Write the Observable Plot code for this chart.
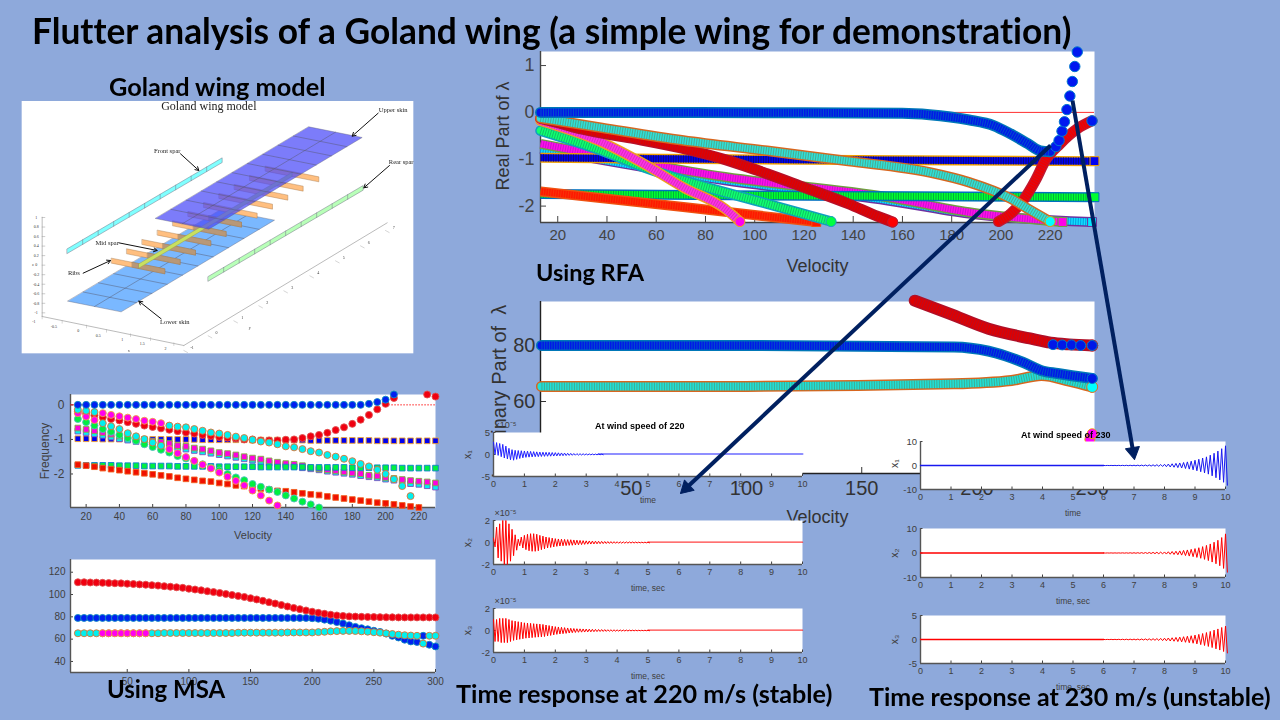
<!DOCTYPE html>
<html><head><meta charset="utf-8">
<script src="https://cdn.jsdelivr.net/npm/d3@7"></script>
<script src="https://cdn.jsdelivr.net/npm/@observablehq/plot@0.6"></script>
<style>
html,body{margin:0;padding:0;background:#8EA9DB;width:1280px;height:720px;overflow:hidden}
#root{position:relative;width:1280px;height:720px;overflow:hidden;background:#8EA9DB}
#root svg{position:absolute;overflow:visible;background:transparent;max-width:none}
.t{position:absolute;font-family:Lato,"Open Sans",sans-serif;font-weight:700;color:#000;white-space:nowrap;line-height:1;font-variant-ligatures:none}
</style></head><body><div id="root"></div>
<script>
// ---------- RFA, real part ----------
const rfaBlueV=[13,60,120,160,171,187,197,204,211,216,220];
const rfaBlueY=[0,0,-0.01,-0.02,-0.05,-0.16,-0.28,-0.46,-0.67,-0.82,-0.84];
const rfaBlueTailV=[222.3,223.6,224.8,225.8,226.8,228,229,230,231,237];
const rfaBlueTailY=[-0.73,-0.6,-0.4,-0.2,0.06,0.35,0.66,0.98,1.29,-0.18];
const rfaRedV=[13,20,30,50,70,90,105,120,138,150,156];
const rfaRedY=[-0.13,-0.22,-0.36,-0.55,-0.76,-1.04,-1.31,-1.6,-1.95,-2.22,-2.34];
const rfaRed2V=[199,204,209,214,218,224,231,237];
const rfaRed2Y=[-2.33,-2.16,-1.88,-1.45,-1.03,-0.67,-0.35,-0.18];
const rfaCyanV=[13,38,71,105,138,171,187,204,212,220];
const rfaCyanY=[-0.12,-0.33,-0.6,-0.82,-1.04,-1.28,-1.49,-1.84,-2.09,-2.33];
const rfaMagV=[13,38,55,71,88,94];
const rfaMagY=[-0.18,-0.64,-1.1,-1.6,-2.06,-2.33];
const rfaGreenV=[13,38,55,71,105,131];
const rfaGreenY=[-0.39,-0.82,-1.17,-1.45,-1.95,-2.33];
const rfaSqBlueV=[13,120,238];   const rfaSqBlueY=[-0.97,-1.01,-1.04];
const rfaSqGreenV=[13,120,238];  const rfaSqGreenY=[-1.74,-1.78,-1.81];
const rfaSqRedV=[13,71,125];     const rfaSqRedY=[-1.69,-2.02,-2.34];
const rfaSqMagV=[13,88,154,187,225];  const rfaSqMagY=[-0.67,-1.38,-1.81,-2.13,-2.34];
const rfaSqCyanV=[13,88,154,187,237]; const rfaSqCyanY=[-0.78,-1.45,-1.88,-2.16,-2.34];
// ---------- RFA, imaginary part ----------
const imBlueV=[11,100,190,205,220,228,235,250];  const imBlueY=[80,80,79.5,78,74,71,70,68.2];
const imCyanV=[11,100,190,215,228,240,250];      const imCyanY=[65.4,65.4,66.3,67.5,69.3,67.3,65.2];
const imRedV=[173,188,205,223,232,240,250];      const imRedY=[96,91.4,86,82.5,81,80.4,80];
const imBlueTailV=[233,237,241,245,250];         const imBlueTailY=[80.3,80.2,80.2,80,80];
const imMagV=[249,250]; const imMagY=[46.5,48.5];
// ---------- MSA, damping ----------
const fVel=[15,20,25,30,35,40,45,50,55,60,65,70,75,80,85,90,95,100,105,110,115,120,125,130,135,140,145,150,155,160,165,170,175,180,185,190,195,200,205,210,215,220,225,230];
const fBlue=[0,0,0,0,0,0,0,0,0,0,0,0,0,0,0,0,0,0,0,0,0,0,0,0,0,0,0,0,0,0,0,0,0,0,0,0.03,0.08,0.15,0.3];
const fRed=[-.2,-.25,-.3,-.36,-.41,-.45,-.5,-.55,-.6,-.64,-.68,-.72,-.76,-.8,-.83,-.87,-.9,-.93,-.95,-.97,-1,-1,-1.03,-1.03,-1.03,-1.01,-1,-.96,-.91,-.87,-.81,-.73,-.65,-.55,-.43,-.29,-.13,.03,.2,null,null,null,.3,.24];
const fCyan=[-.14,-.17,-.21,-.53,-.62,-.7,-.82,-.91,-.99,-1.09,-1.18,-.6,-.63,-.65,-.7,-.75,-.8,-.83,-.87,-.92,-.96,-1.01,-1.06,-1.09,-1.14,-1.2,-1.23,-1.28,-1.34,-1.38,-1.45,-1.5,-1.56,-1.63,-1.71,-1.78,-1.88,-2,-2.15,-2.35,-2.64];
const fMag=[-.24,-.34,-.44,-.24,-.29,-.33,-.37,-.41,-.46,-.49,-.53,-1.28,-1.4,-1.51,-1.62,-1.73,-1.84,-1.96,-2.08,-2.2,-2.33,-2.48,-2.62,-2.77,-2.91];
const fGreen=[-.41,-.5,-.6,-.7,-.78,-.87,-.96,-1.04,-1.14,-1.22,-1.3,-1.38,-1.48,-1.55,-1.63,-1.72,-1.82,-1.9,-2,-2.1,-2.18,-2.29,-2.37,-2.45,-2.52,-2.62,-2.71,-2.8,-2.88,-2.97];
const fSqBlue=[-.98,-.98,-.98,-.99,-.99,-.99,-.99,-1,-1,-1,-1,-1,-1,-1,-1,-1.01,-1.01,-1.01,-1.01,-1.01,-1.01,-1.02,-1.02,-1.02,-1.02,-1.02,-1.02,-1.02,-1.03,-1.03,-1.03,-1.03,-1.03,-1.03,-1.03,-1.03,-1.04,-1.04,-1.04,-1.04,-1.04,-1.04,-1.04,-1.04];
const fSqGreen=[-1.75,-1.75,-1.75,-1.75,-1.75,-1.76,-1.76,-1.76,-1.77,-1.77,-1.77,-1.77,-1.78,-1.78,-1.78,-1.78,-1.78,-1.79,-1.79,-1.79,-1.79,-1.79,-1.8,-1.8,-1.8,-1.8,-1.8,-1.8,-1.81,-1.81,-1.81,-1.81,-1.81,-1.82,-1.82,-1.82,-1.82,-1.82,-1.82,-1.83,-1.83,-1.83,-1.83,-1.83];
const fSqRed=[-1.73,-1.76,-1.79,-1.83,-1.86,-1.89,-1.92,-1.95,-1.98,-2.01,-2.04,-2.07,-2.11,-2.14,-2.17,-2.2,-2.22,-2.26,-2.29,-2.33,-2.35,-2.38,-2.42,-2.45,-2.49,-2.5,-2.53,-2.56,-2.59,-2.61,-2.65,-2.68,-2.71,-2.74,-2.77,-2.8,-2.83,-2.85,-2.88,-2.91,-2.94,-2.97];
const fSqMag=[-.67,-.71,-.75,-.8,-.85,-.9,-.95,-1,-1.03,-1.05,-1.08,-1.12,-1.18,-1.2,-1.25,-1.28,-1.33,-1.38,-1.41,-1.45,-1.5,-1.54,-1.57,-1.62,-1.66,-1.7,-1.72,-1.76,-1.82,-1.85,-1.88,-1.9,-1.94,-1.97,-1.99,-2.04,-2.06,-2.1,-2.13,-2.16,-2.19,-2.21,-2.23,-2.26];
const fSqCyan=[-.76,-.8,-.84,-.88,-.93,-.98,-1.02,-1.06,-1.1,-1.13,-1.17,-1.2,-1.24,-1.28,-1.32,-1.36,-1.4,-1.44,-1.48,-1.52,-1.56,-1.6,-1.64,-1.68,-1.72,-1.75,-1.78,-1.82,-1.85,-1.88,-1.92,-1.95,-1.98,-2.01,-2.05,-2.08,-2.11,-2.15,-2.18,-2.21,-2.28,-2.3,-2.34,-2.38];
// ---------- MSA, frequency ----------
const gVel=[10,15,20,25,30,35,40,45,50,55,60,65,70,75,80,85,90,95,100,105,110,115,120,125,130,135,140,145,150,155,160,165,170,175,180,185,190,195,200,205,210,215,220,225,230,235,240,245,250,255,260,265,270,275,280,285,290,295,300];
const gRed=[111,111,110.8,110.7,110.5,110.3,110.1,110,109.7,109.4,109.1,108.8,108.4,108,107.5,107,106.5,106,105.2,104.5,103.8,103,102.2,101.4,100.5,99.6,98.7,97.8,96.7,95.6,94.4,93.1,91.9,90.6,89.3,88,86.9,85.7,84.6,83.6,82.7,81.9,81.2,80.8,80.4,80.2,80,79.9,79.8,79.7,79.6,79.6,79.5,79.5,79.5,79.5,79.5,79.5,79.5];
const gBlue=[79,79,79,79,79,79,79,79,79,79,79,79,79,79,79,79,79,79,79,79,79,79,79,79,79,79,79,79,79,79,79,79,79,79,79,79,79,79,78.8,78.3,77.5,76.5,75.3,74,72.5,71,69.8,68.8,67.5,66.5,65,63,61.5,59.5,58,57.5,63,55,53.5];
const gCyan=[65.3,65.3,65.3,65.3,65.3,65.3,65.3,65.3,65.3,65.3,65.3,65.3,65.3,65.3,65.5,65.5,65.5,65.5,65.5,65.5,65.5,65.5,65.5,65.5,65.5,65.5,65.8,65.8,65.8,65.8,65.8,65.8,65.8,65.8,66,66,66,66,66,66.3,66.6,67,67.2,67.4,67.4,67.3,67,66.7,66.2,65.8,65.2,64.6,64,63.5,63.2,63,56,63,63];
const gMagV=[30,35,40,45,50,55,60,65];
const gMagY=[65.3,65.3,65.3,65.3,65.3,65.3,65.3,65.3];
// ---------- time responses (envelope read every 0.1 s / 0.125 s) ----------
const t220a=[2.8,2.7,2.5,2.3,1.9,1.4,1.1,.95,.9,.85,.8,.75,.7,.65,.6,.55,.52,.5,.48,.45,.42,.38,.35,.32,.28,.25,.22,.2,.18,.16,.14,.13,.12,.1,.09,.08];
const t220aLo=[0,-.2,-.5,-.8,-1,-1.2,-1.3,-1.1,-.9,-.75,-.65,-.6,-.55,-.5,-.48,-.45,-.42,-.4,-.38,-.35,-.32,-.3,-.27,-.24,-.2,-.18,-.16,-.14,-.12,-.1,-.09,-.08,-.08,-.07,-.06,-.05];
const t220b=[.4,1.4,1.7,2,2,1.7,1.2,.7,.3,.5,.65,.75,.8,.8,.75,.65,.58,.5,.45,.4,.35,.32,.3,.28,.26,.25,.23,.21,.19,.17,.15,.14,.13,.12,.11,.1,.09,.085,.08,.075,.07,.065,.06,.055,.05,.045,.04,.035,.03,.03,.03];
const t220c=[1,1,1.1,1.1,1.1,1,.9,.85,.8,.75,.7,.68,.65,.62,.6,.58,.55,.5,.45,.4,.35,.32,.29,.26,.23,.2,.18,.16,.15,.14,.13,.12,.11,.1,.09,.085,.08,.07,.065,.06,.055,.05,.045,.04,.035,.03,.03,.025,.02,.02,.02];
const t230a=[.03,.03,.04,.05,.06,.07,.09,.1,.12,.14,.16,.2,.24,.28,.34,.4,.5,.6,.72,.88,1.05,1.25,1.5,1.8,2.2,2.6,3.1,3.6,4.3,5.1,6,7,8.2];
const t230b=[.03,.03,.04,.04,.05,.06,.07,.09,.1,.12,.15,.18,.22,.26,.3,.36,.43,.5,.6,.72,.86,1.05,1.25,1.5,1.8,2.15,2.6,3.1,3.7,4.4,5.2,6.3,7.8];
const t230c=[.02,.02,.03,.03,.04,.05,.06,.07,.08,.09,.1,.12,.14,.16,.19,.23,.27,.31,.36,.43,.5,.58,.68,.78,.92,1.07,1.25,1.45,1.68,1.95,2.2,2.5,2.8];
const timeTicks=[0,1,2,3,4,5,6,7,8,9,10];
// ---------- wing sketch geometry, in picture units ----------
const ribStarts=[[288,503],[334,475],[380,447],[426,419],[472,391],[518,363],[565,336],[611,309],[657,282],[703,255],[750,227]];
const wingLabels=[["Upper skin",1133,57],["Front spar",455,180],["Rear spar",1157,214],["Mid spar",275,456],["Ribs",175,548],["Lower skin",478,693]];
const wingArrows=[[1088,68,1010,137],[495,190,550,240],[1122,225,1045,292],[310,457,425,480],[203,548,285,510],[437,685,370,632]];
const wingZ=[1,0.8,0.6,0.4,0.2,0,-0.2,-0.4,-0.6,-0.8,-1];
const wingXT=[["-1",55,695],["-0.5",115,708],["0",188,722],["0.5",248,735],["1",320,748],["1.5",380,760],["2",450,775],["x",340,782],["y",703,712],["z",52,524]];
const wingYT=[["-1",530,772],["0",603,728],["1",680,683],["2",755,638],["3",830,593],["4",908,548],["5",985,503],["6",1060,458],["7",1135,412]];
// ---------- annotation arrows on the slide, page pixels ----------
const slideArrows=[{x1:1050,y1:145,x2:680,y2:493},{x1:1072,y1:100,x2:1134,y2:459}];
const AX="#404040", BF='"Liberation Sans",Arial,sans-serif';
const root=document.getElementById("root");
const rows=(vs,ys)=>ys.map((y,i)=>({x:vs[i],y})).filter(d=>d.y!=null);

function panel(px,py,pw,ph,xDom,yDom,marks,m={}){
  const l=m.l??60,r=m.r??40,t=m.t??30,b=m.b??60;
  const svg=Plot.plot({width:l+pw+r,height:t+ph+b,marginLeft:l,marginRight:r,marginTop:t,marginBottom:b,
    x:{domain:xDom,axis:null},y:{domain:yDom,axis:null},
    style:{background:"transparent",overflow:"visible",fontFamily:BF,color:AX},marks});
  svg.style.left=(px-l)+"px";svg.style.top=(py-t)+"px";
  root.appendChild(svg);return svg;
}
function axes(xt,yt,xDom,yDom,o){
  const tx=o.tick??4,fx=o.fx??9,fy=o.fy??fx,c=o.color??AX;
  return [
    Plot.axisX(xt,{anchor:"bottom",tickSize:-tx,tickPadding:tx+(o.padX??4),fontSize:fx,stroke:c,color:c,fill:c,label:null,tickFormat:d=>String(d)}),
    Plot.axisY(yt,{anchor:"left",tickSize:-tx,tickPadding:tx+(o.padY??4),fontSize:fy,stroke:c,color:c,fill:c,label:null,tickFormat:d=>String(d)}),
    Plot.ruleY([yDom[0]],{stroke:o.line??"#555",strokeWidth:o.lw??1.4}),
    Plot.ruleX([xDom[0]],{stroke:o.line??"#555",strokeWidth:o.lw??1.4})
  ];
}
const bl=(s,dy,fs,c=AX)=>Plot.text([s],{text:d=>d,frameAnchor:"bottom",lineAnchor:"middle",dy,fontSize:fs,fill:c});
const yl=(s,dx,dy,fs,c=AX)=>Plot.text([s],{text:d=>d,frameAnchor:"left",lineAnchor:"middle",textAnchor:"middle",rotate:-90,dx,dy,fontSize:fs,fill:c});

// dense marker band: many overlapping edged markers, seen as a thick striped line
function band(vs,ys,fill,edge,opt={}){
  const d=rows(vs,ys),w=opt.w??10.5,cap=opt.cap??"round",curve="monotone-x";
  return [
    Plot.line(d,{x:"x",y:"y",curve,stroke:edge,strokeWidth:w,strokeLinecap:cap}),
    Plot.line(d,{x:"x",y:"y",curve,stroke:fill,strokeWidth:w-3,strokeLinecap:cap}),
    Plot.line(d,{x:"x",y:"y",curve,stroke:opt.stripe??edge,strokeWidth:w-2.5,strokeLinecap:"butt",strokeDasharray:opt.dash??"1 1.5",strokeOpacity:opt.so??0.75})
  ];
}
const endDot=(v,y,fill,stroke,sym="circle",r=5)=>Plot.dot([{x:v,y}],{x:"x",y:"y",fill,stroke,strokeWidth:1,r,symbol:sym});
const dots=(vs,ys,fill,stroke,sym="circle",r=3.5,sw=0.9)=>Plot.dot(rows(vs,ys),{x:"x",y:"y",fill,stroke,strokeWidth:sw,r,symbol:sym});

// ---------- imaginary part (underneath the time panels) ----------
{
  const xd=[10.6,251],yd=[34.3,95.7];
  panel(540,301,554,172,xd,yd,[
    Plot.frame({fill:"white"}),
    ...axes([50,100,150,200,250],[60,80],xd,yd,{tick:6,fx:20,fy:20,padX:7,padY:5,line:"#222",lw:1.4,color:"#333"}),
    bl("Velocity",44,18,"#333"),
    yl("Imaginary Part of  λ",-41,4,20,"#333"),
    ...band(imRedV,imRedY,"#e00000","#b01028",{w:12}),
    ...band(imCyanV,imCyanY,"#20e0d8","#d8661e",{w:11,stripe:"#4a9a7a"}),
    ...band(imBlueV,imBlueY,"#0018e8","#0078b8",{w:11,so:0.6}),
    dots(imMagV,imMagY,"#ff00ff","#f0a000","circle",5),
    endDot(250,80,"#ff0000","#c0242a","circle",5.5),
    dots(imBlueTailV,imBlueTailY,"#0018e8","#0078c8","circle",5,1),
    endDot(250,65.2,"#00ffff","#e07020","circle",5.5),
    endDot(250,68.2,"#0018e8","#0078c8","circle",5)
  ],{l:60,t:30,r:40,b:60});
}
// ---------- real part ----------
{
  const xd=[13,238],yd=[-2.35,1.3];
  panel(540,51,554,171,xd,yd,[
    Plot.frame({fill:"white"}),
    ...axes([20,40,60,80,100,120,140,160,180,200,220],[-2,-1,0,1],xd,yd,{tick:6,fx:15,fy:18,padX:7,padY:6,line:"#444",lw:1.4,color:"#444"}),
    bl("Velocity",44,18,"#333"),
    yl("Real Part of λ",-37,-1,18,"#333"),
    Plot.ruleY([0],{stroke:"#ff3030",strokeWidth:1}),
    ...band(rfaSqCyanV,rfaSqCyanY,"#10e0ff","#7030a0",{w:10,cap:"butt",stripe:"#0060c0",so:0.55}),
    ...band(rfaSqMagV,rfaSqMagY,"#ff10e8","#70a040",{w:10,cap:"butt",stripe:"#a010c0",so:0.55}),
    ...band(rfaSqGreenV,rfaSqGreenY,"#00ff30","#0070c0",{w:10,cap:"butt",stripe:"#009040",so:0.7}),
    ...band(rfaSqRedV,rfaSqRedY,"#ff1800","#f05010",{w:10,cap:"butt",so:0.5}),
    ...band(rfaSqBlueV,rfaSqBlueY,"#0000f0","#f0a000",{w:10,cap:"butt",stripe:"#101060",so:0.8}),
    endDot(225,-2.34,"#ff00e8","#70a040","square",5),
    endDot(237,-2.34,"#00e8ff","#7030a0","square",5),
    endDot(238,-1.04,"#0000f0","#f0a000","square",5),
    endDot(238,-1.81,"#00ff30","#0070c0","square",5),
    endDot(125,-2.34,"#ff1800","#f05010","square",5),
    ...band(rfaGreenV,rfaGreenY,"#10ff70","#10a0c0",{stripe:"#10a060",so:0.65}),
    endDot(131,-2.33,"#00ff40","#20a0c0"),
    ...band(rfaMagV,rfaMagY,"#ff30e8","#f0a020",{stripe:"#c030a0",so:0.6}),
    endDot(94,-2.33,"#ff00f0","#f0a020"),
    ...band(rfaRedV,rfaRedY,"#e00000","#b81028",{so:0.6,w:11}),
    ...band(rfaRed2V,rfaRed2Y,"#f00000","#c01830",{so:0.6,w:11}),
    endDot(156,-2.34,"#ff0000","#c01830"),
    ...band(rfaCyanV,rfaCyanY,"#30e0d8","#d8661e",{stripe:"#509a7a"}),
    endDot(220,-2.33,"#00ffff","#d8a020"),
    ...band(rfaBlueV,rfaBlueY,"#0018e8","#0078b8",{w:11,so:0.6}),
    dots(rfaBlueTailV,rfaBlueTailY,"#0018f0","#0078d0","circle",5.2,1)
  ],{l:60,t:30,r:40,b:60});
}
// ---------- MSA real part ----------
{
  const xd=[10.6,230],yd=[-2.97,0.3];
  panel(70,394,365,113,xd,yd,[
    Plot.frame({fill:"white"}),
    ...axes([20,40,60,80,100,120,140,160,180,200,220],[-2,-1,0],xd,yd,{tick:3,fx:10,fy:12,padX:5,padY:6,line:"#555"}),
    bl("Velocity",28,11),
    yl("Frequency",-25,0,12),
    Plot.line([{x:10.6,y:0},{x:20,y:0}],{x:"x",y:"y",stroke:"#e02020",strokeWidth:1}),
    Plot.line([{x:200,y:0},{x:230,y:0}],{x:"x",y:"y",stroke:"#ff4040",strokeWidth:1,strokeDasharray:"1 2"}),
    dots(fVel,fSqBlue,"#0000f0","#f0a030","square",3.2),
    dots(fVel,fSqCyan,"#00f0f0","#8050c0","square",3.2),
    dots(fVel,fSqMag,"#ff00e0","#80b040","square",3.2),
    dots(fVel,fSqGreen,"#00f040","#1080d0","square",3.2),
    dots(fVel,fSqRed,"#f01000","#f06020","square",3.2),
    dots(fVel,fGreen,"#00f040","#50c0c0"),
    dots(fVel,fRed,"#f00010","#e05050"),
    dots(fVel,fMag,"#ff00f0","#f0a040"),
    dots(fVel,fCyan,"#00f0f0","#e07030"),
    dots(fVel,fBlue,"#0020f0","#1090c0")
  ],{l:60,t:20,r:30,b:50});
}
// ---------- MSA frequency ----------
{
  const xd=[4,300],yd=[30.1,131.4];
  panel(70,559,365,113,xd,yd,[
    Plot.frame({fill:"white"}),
    ...axes([50,100,150,200,250,300],[40,60,80,100,120],xd,yd,{tick:3,fx:10,fy:10,padX:5,padY:5,line:"#555"}),
    dots(gVel,gBlue,"#0020f0","#1090c0"),
    dots(gVel,gRed,"#f00010","#e05050"),
    dots(gVel,gCyan,"#00f0f0","#e07030"),
    dots(gMagV,gMagY,"#ff00f0","#f0a040")
  ],{l:60,t:20,r:30,b:50});
}
// ---------- time responses ----------
function zig(hi,lo,t0,dt,c){
  const d=[];
  hi.forEach((h,i)=>{d.push({x:t0+i*dt,y:h});d.push({x:t0+i*dt+dt/2,y:lo?lo[i]:-h});});
  return Plot.line(d,{x:"x",y:"y",stroke:c,strokeWidth:1});
}
function timePanel(x,y,w,h,yd,yt,o){
  const marks=[
    Plot.frame({fill:"white"}),
    ...axes(timeTicks,yt,[0,10],yd,{tick:2.5,fx:9,fy:9.5,padX:4,padY:3.5,line:"#555"}),
    bl(o.xlabel,o.xdy??24,8.5),
    yl(o.yname,-26,o.ydy??0,10.5),
    Plot.line([{x:o.a,y:o.off??0},{x:o.b,y:o.off??0}],{x:"x",y:"y",stroke:o.color,strokeWidth:o.tw??1.4,strokeOpacity:o.to??1}),
    zig(o.hi,o.lo,o.t0,o.dt,o.color)
  ];
  if(o.exp)marks.push(Plot.text(["×10⁻⁵"],{text:d=>d,frameAnchor:"top-left",dx:1,dy:-7,lineAnchor:"middle",fontSize:9,fill:AX}));
  panel(x,y,w,h,[0,10],yd,marks,{l:40,r:15,t:20,b:40});
}
const tl=492.7,tw=309, rl=920,rw=305;
timePanel(tl,432,tw,44,[-5,5],[-5,0,5],{xlabel:"time",yname:"x₁",exp:true,hi:t220a,lo:t220aLo,t0:0,dt:0.1,color:"#2020ff",a:3.4,b:10,off:0.1,tw:2,to:0.5});
timePanel(tl,520,tw,44,[-2,2],[-2,0,2],{xlabel:"time, sec",yname:"x₂",exp:true,hi:t220b,t0:0,dt:0.1,color:"#ff0000",a:5,b:10,off:0.03,tw:1.4,to:0.75});
timePanel(tl,608,tw,44,[-2,2],[-2,0,2],{xlabel:"time, sec",yname:"x₃",exp:true,hi:t220c,t0:0,dt:0.1,color:"#ff0000",a:5,b:10,off:0.03,tw:1.4,to:0.75});
timePanel(rl,441,rw,48,[-10,10],[-10,0,10],{xlabel:"time",yname:"x₁",hi:t230a,t0:6,dt:0.125,color:"#1818f0",a:0,b:6,tw:1.4,ydy:-2});
timePanel(rl,528,rw,49,[-10,10],[-10,0,10],{xlabel:"time, sec",yname:"x₂",hi:t230b,t0:6,dt:0.125,color:"#ff0000",a:0,b:6,tw:1.4});
timePanel(rl,615,rw,48,[-5,5],[-5,0,5],{xlabel:"time, sec",yname:"x₃",hi:t230c,t0:6,dt:0.125,color:"#ff0000",a:0,b:6,tw:1.4,xdy:24});
// ---------- wing sketch ----------
{
  const quad=(p,fill,stroke="#666",so=1,sw=0.6,fo=1)=>Plot.line(p.map(([x,y])=>({x,y})),{x:"x",y:"y",fill,fillOpacity:fo,stroke,strokeOpacity:so,strokeWidth:sw,curve:"linear-closed"});
  const seg=(a,b,c="#555",sw=0.6,o=1)=>Plot.line([{x:a[0],y:a[1]},{x:b[0],y:b[1]}],{x:"x",y:"y",stroke:c,strokeWidth:sw,strokeOpacity:o});
  const skin=(o,fill,fo)=>{
    const span=[460,-275],ch=[160,32],M=[quad([o,[o[0]+ch[0],o[1]+ch[1]],[o[0]+ch[0]+span[0],o[1]+ch[1]+span[1]],[o[0]+span[0],o[1]+span[1]]],fill,"#667",1,0.4,fo)];
    for(let i=1;i<10;i++){const a=[o[0]+span[0]*i/10,o[1]+span[1]*i/10];M.push(seg(a,[a[0]+ch[0],a[1]+ch[1]],"#556",0.45));}
    M.push(seg([o[0]+ch[0]/2,o[1]+ch[1]/2],[o[0]+ch[0]/2+span[0],o[1]+ch[1]/2+span[1]],"#556",0.45));
    return M;
  };
  const spar=(o,fill)=>{
    const span=[465,-273],th=14,M=[quad([o,[o[0]+span[0],o[1]+span[1]],[o[0]+span[0],o[1]+span[1]+th],[o[0],o[1]+th]],fill,"#778",1,0.5)];
    for(let i=1;i<10;i++){const a=[o[0]+span[0]*i/10,o[1]+span[1]*i/10];M.push(seg(a,[a[0],a[1]+th],"#778",0.5));}
    return M;
  };
  const marks=[
    Plot.rect([1],{x1:()=>20,x2:()=>1195,y1:()=>33,y2:()=>790,fill:"white"}),
    seg([80,380],[80,678],"#aaa",0.8),seg([80,678],[505,765],"#aaa",0.8),seg([505,765],[1115,397],"#aaa",0.8),
    ...wingZ.map((z,i)=>seg([80,381+i*28.6],[88,381+i*28.6],"#999",0.5)),
    Plot.text(wingZ,{x:()=>62,y:(d,i)=>381+i*28.6,text:d=>String(d),fontSize:4,fill:"#333",fontFamily:"Liberation Serif"}),
    Plot.text(wingXT,{x:d=>d[1],y:d=>d[2],text:d=>d[0],fontSize:4,fill:"#333",fontFamily:"Liberation Serif"}),
    Plot.text(wingYT,{x:d=>d[1],y:d=>d[2],text:d=>d[0],fontSize:4,fill:"#333",fontFamily:"Liberation Serif"}),
    ...wingXT.slice(0,7).map(d=>seg([d[1]+25,d[2]-18],[d[1]+25,d[2]-10],"#aaa",0.5)),
    ...wingYT.map(d=>seg([d[1]-25,d[2]+8],[d[1]-14,d[2]+14],"#aaa",0.5)),
    ...skin([157,632],"#7ab8ff",1),
    ...ribStarts.map(([x,y])=>quad([[x,y],[x+160,y+32],[x+160,y+47],[x,y+15]],"#ffbf80","#a07040",1,0.4)),
    ...ribStarts.slice(0,6).map(([x,y])=>quad([[x+62,y+12],[x+160,y+32],[x+160,y+47],[x+62,y+27]],"#b89878","#806848",1,0.3)),
    quad([[370,520],[830,245],[830,258],[370,533]],"#c8e060","#90904a",1,0.4),
    ...skin([420,384],"#4a4af8",0.72),
    ...spar([155,475],"#80ffff"),
    ...spar([578,558],"#b8ffb8"),
    Plot.arrow(wingArrows,{x1:d=>d[0],y1:d=>d[1],x2:d=>d[2],y2:d=>d[3],stroke:"#111",strokeWidth:1,headLength:6}),
    Plot.text(wingLabels,{x:d=>d[1],y:d=>d[2],text:d=>d[0],fontSize:6.5,fill:"#222",fontFamily:"Liberation Serif"}),
    Plot.text(["Goland wing model"],{x:()=>580,y:()=>48,text:d=>d,fontSize:12,fill:"#222",fontFamily:"Liberation Serif"})
  ];
  const s=Plot.plot({width:410,height:270,margin:0,x:{domain:[0,1230],axis:null},y:{domain:[810,0],axis:null},
    style:{background:"transparent",overflow:"visible"},marks});
  s.style.left="15px";s.style.top="90px";s.style.filter="blur(0.35px)";root.appendChild(s);
}
// ---------- slide text and arrows ----------
{
  const headShape={draw(ctx,l){ctx.moveTo(0,-l);ctx.lineTo(7,0);ctx.lineTo(-7,0);ctx.closePath();}};
  const s=Plot.plot({width:1280,height:720,margin:0,x:{domain:[0,1280],axis:null},y:{domain:[720,0],axis:null},
    style:{background:"transparent",overflow:"visible"},
    marks:[
      Plot.link(slideArrows,{x1:"x1",y1:"y1",x2:d=>d.x2-(d.x2-d.x1)*0.02,y2:d=>d.y2-(d.y2-d.y1)*0.02,stroke:"#002060",strokeWidth:4,strokeLinecap:"butt"}),
      Plot.vector(slideArrows,{x:"x2",y:"y2",length:()=>15,scale:1,anchor:"end",shape:headShape,fill:"#002060",stroke:"#002060",strokeWidth:1,
        rotate:d=>Math.atan2(d.x2-d.x1,-(d.y2-d.y1))*180/Math.PI})
    ]});
  s.style.left="0";s.style.top="0";root.appendChild(s);
}
const slideText=[
  ["Flutter analysis of a Goland wing (a simple wing for demonstration)",32,13,35.3],
  ["Goland wing model",109,74,25.3],
  ["Using RFA",536,261,23.5],
  ["Using MSA",107,677,24],
  ["Time response at 220 m/s (stable)",456,681,25.2],
  ["Time response at 230 m/s (unstable)",869,684,25]
];
slideText.forEach(([s,x,y,fs])=>{const d=document.createElement("div");d.className="t";d.textContent=s;d.style.left=x+"px";d.style.top=y+"px";d.style.fontSize=fs+"px";root.appendChild(d);});
const small=[["At wind speed of 220",595,421],["At wind speed of 230",1021,430]];
small.forEach(([s,x,y])=>{const d=document.createElement("div");d.className="t";d.textContent=s;d.style.cssText+=`left:${x}px;top:${y}px;font:700 9px ${BF};`;root.appendChild(d);});
</script></body></html>
